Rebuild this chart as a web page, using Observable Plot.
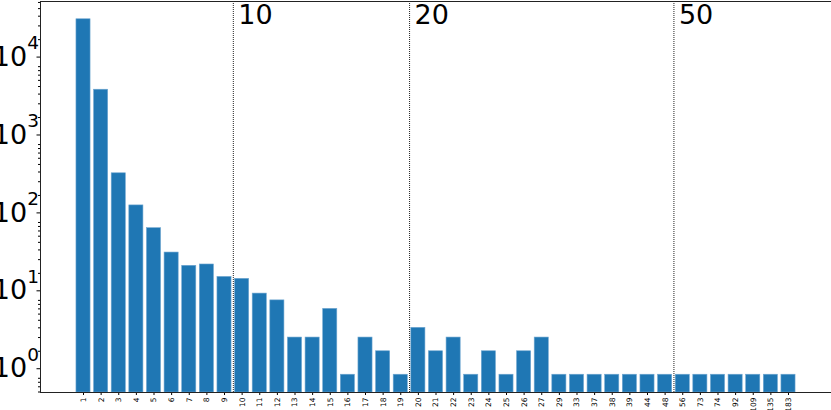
<!DOCTYPE html>
<html><head><meta charset="utf-8">
<script src="https://cdn.jsdelivr.net/npm/d3@7"></script>
<script src="https://cdn.jsdelivr.net/npm/@observablehq/plot@0.6"></script>
<style>body{margin:0;background:#fff}svg{display:block}</style>
</head><body><div id="chart"></div>
<script>
const categories = ["1","2","3","4","5","6","7","8","9","10","11","12","13","14","15","16","17","18","19","20","21","22","23","24","25","26","27","29","33","37","38","39","44","48","56","73","74","92","109","135","183"];
const counts = [36500,4550,385,149,76,37,25,26,18,17,11,9,3,3,7,1,3,2,1,4,2,3,1,2,1,2,3,1,1,1,1,1,1,1,1,1,1,1,1,1,1];
const lineCats = ["10","20","56"];
const lineLabels = ["10","20","50"];
const majorTicks = [1,10,100,1000,10000];

const table = categories.map((c, i) => ({c, v: counts[i]}));
const lo = Math.log10(d3.min(counts)), hi = Math.log10(d3.max(counts));
const span = hi - lo;
const yDomain = [10 ** (lo - 0.05 * span), 10 ** (hi + 0.05 * span)];
const minorTicks = d3.range(-1, 5).flatMap(k => d3.range(2, 10).map(m => m * 10 ** k))
  .filter(v => v >= yDomain[0] && v <= yDomain[1]);

const W = 831, H = 410, ML = 40, MR = 0, MT = 1, MB = 18;
const xOpts = {type: "band", domain: categories, paddingInner: 0.2, paddingOuter: 2.04, round: false};
const xs = Plot.scale({x: {...xOpts, range: [ML, W - MR]}});
const step = xs.step ?? ((W - ML - MR) / (categories.length - 0.2 + 4.08));

const plot = Plot.plot({
  width: W, height: H,
  marginTop: MT, marginBottom: MB, marginLeft: ML, marginRight: MR,
  style: {fontFamily: "DejaVu Sans", background: "white", color: "black", overflow: "visible"},
  x: xOpts,
  y: {type: "log", domain: yDomain},
  marks: [
    Plot.barY(table, {x: "c", y1: yDomain[0], y2: "v", fill: "#1f77b4", stroke: "#6fa6d0", strokeWidth: 0.6}),
    Plot.ruleX(lineCats, {x: d => d, dx: -step / 2, stroke: "#222", strokeWidth: 1, strokeDasharray: "1,1"}),
    Plot.text(lineLabels, {x: lineCats, text: d => d, frameAnchor: "top", textAnchor: "start", lineAnchor: "top", dx: -step / 2 + 5, dy: 3.5, fontSize: 27, fill: "black"}),
    Plot.axisY({ticks: majorTicks, tickSize: 3.5, tickPadding: -2, fontSize: 27, dy: -6, tickFormat: d => "10^" + Math.round(Math.log10(d)), label: null}),
    Plot.axisY({ticks: minorTicks, tickSize: 2, tickFormat: () => "", label: null}),
    Plot.axisX({tickSize: 3, tickRotate: -90, tickPadding: 2, fontSize: 7.5, label: null}),
    Plot.frame({stroke: "#222", strokeWidth: 1})
  ]
});

d3.select(plot).selectAll('g[aria-label="y-axis tick label"] text').each(function () {
  const s = this.textContent;
  if (!s.includes("^")) return;
  const [base, exp] = s.split("^");
  const t = d3.select(this);
  t.text(base);
  t.append("tspan").attr("font-size", "18.5px").attr("dy", "-16.5").text(exp);
});

document.getElementById("chart").appendChild(plot);
</script>
</body></html>
